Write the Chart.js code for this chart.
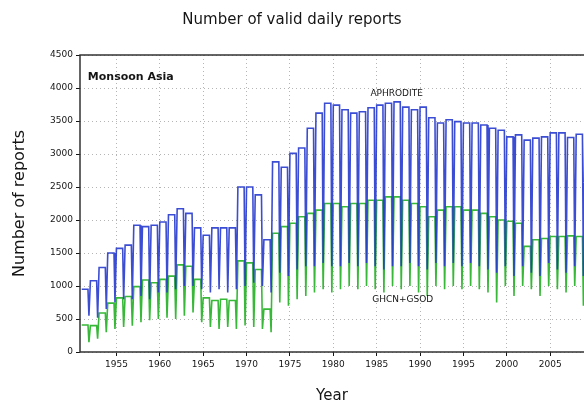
<!DOCTYPE html>
<html>
<head>
<meta charset="utf-8">
<script src="https://cdn.jsdelivr.net/npm/chart.js@4/dist/chart.umd.min.js"></script>
<style>
  html, body { margin: 0; padding: 0; background: #fff; }
  #wrap { width: 584px; height: 414px; }
</style>
</head>
<body>
<div id="wrap"><canvas id="reportsChart" width="584" height="414"></canvas></div>
<script>
// years 1951..2008, one plateau value and one seasonal dip value per year
const years = [
  1951, 1952, 1953, 1954, 1955, 1956, 1957, 1958, 1959, 1960,
  1961, 1962, 1963, 1964, 1965, 1966, 1967, 1968, 1969, 1970,
  1971, 1972, 1973, 1974, 1975, 1976, 1977, 1978, 1979, 1980,
  1981, 1982, 1983, 1984, 1985, 1986, 1987, 1988, 1989, 1990,
  1991, 1992, 1993, 1994, 1995, 1996, 1997, 1998, 1999, 2000,
  2001, 2002, 2003, 2004, 2005, 2006, 2007, 2008,
];

const aphroHigh = [
  950, 1080, 1280, 1500, 1570, 1620, 1920, 1900, 1920, 1970,
  2080, 2170, 2100, 1880, 1770, 1880, 1880, 1880, 2500, 2500,
  2380, 1700, 2880, 2800, 3010, 3090, 3390, 3620, 3770, 3740,
  3670, 3620, 3640, 3700, 3740, 3770, 3790, 3710, 3670, 3710,
  3550, 3470, 3520, 3490, 3470, 3470, 3440, 3390, 3360, 3260,
  3290, 3210, 3240, 3260, 3320, 3320, 3250, 3300,
];
const aphroLow = [
  550, 520, 650, 750, 800, 800, 850, 800, 900, 900,
  950, 1000, 1000, 950, 900, 950, 900, 950, 1000, 1050,
  1000, 900, 1200, 1150, 1250, 1300, 1300, 1350, 1300, 1300,
  1350, 1300, 1350, 1300, 1250, 1300, 1300, 1350, 1300, 1250,
  1350, 1300, 1350, 1300, 1350, 1300, 1250, 1200, 1300, 1150,
  1300, 1200, 1150, 1350, 1250, 1200, 1300, 1150,
];

const ghcnHigh = [
  410, 400, 590, 740, 820, 840, 990, 1090, 1050, 1100,
  1150, 1320, 1300, 1100, 820, 780, 800, 780, 1380, 1350,
  1250, 650, 1800, 1900, 1950, 2050, 2100, 2150, 2250, 2250,
  2200, 2250, 2250, 2300, 2300, 2350, 2350, 2300, 2250, 2200,
  2050, 2150, 2200, 2200, 2150, 2150, 2100, 2050, 2000, 1980,
  1950, 1600, 1700, 1720, 1750, 1750, 1760, 1750,
];
const ghcnLow = [
  150, 200, 300, 350, 380, 400, 450, 480, 500, 520,
  500, 550, 600, 450, 380, 350, 380, 350, 400, 380,
  350, 300, 750, 700, 800, 850, 900, 950, 900, 950,
  1000, 950, 1000, 950, 900, 1000, 950, 1000, 900, 850,
  1000, 950, 1000, 950, 1000, 950, 900, 750, 1000, 850,
  1000, 950, 850, 1000, 950, 900, 1000, 700,
];

const xTickYears = [1955, 1960, 1965, 1970, 1975, 1980, 1985, 1990, 1995, 2000, 2005];

// plateau through most of the year, then a short dip
function seasonal(high, low) {
  const pts = [];
  years.forEach((yr, i) => {
    pts.push({ x: yr, y: high[i] });
    pts.push({ x: yr + 0.72, y: high[i] });
    pts.push({ x: yr + 0.83, y: low[i] });
  });
  pts.push({ x: years[years.length - 1] + 1, y: high[high.length - 1] });
  return pts;
}

const FONT = "'DejaVu Sans', sans-serif";
const INK = '#151515';

// solid frame (left, bottom, top) + text inside the plot
const framePlugin = {
  id: 'frameAndLabels',
  afterDatasetsDraw(chart) {
    const { ctx, chartArea: a, scales } = chart;
    const x = scales.x, y = scales.y;
    ctx.save();
    ctx.strokeStyle = '#333';
    ctx.lineWidth = 1.5;
    ctx.beginPath();
    ctx.moveTo(a.right, a.top);
    ctx.lineTo(a.left, a.top);
    ctx.lineTo(a.left, a.bottom);
    ctx.lineTo(a.right, a.bottom);
    ctx.stroke();

    ctx.fillStyle = INK;
    ctx.textBaseline = 'middle';
    ctx.font = 'bold 11px ' + FONT;
    ctx.textAlign = 'left';
    ctx.fillText('Monsoon Asia', x.getPixelForValue(1951.7), y.getPixelForValue(4170));
    ctx.font = '9px ' + FONT;
    ctx.textAlign = 'center';
    ctx.fillText('APHRODITE', x.getPixelForValue(1987.3), y.getPixelForValue(3920));
    ctx.fillText('GHCN+GSOD', x.getPixelForValue(1988.0), y.getPixelForValue(800));
    ctx.restore();
  },
};

const ctx = document.getElementById('reportsChart').getContext('2d');
new Chart(ctx, {
  type: 'line',
  data: {
    datasets: [
      {
        label: 'APHRODITE',
        data: seasonal(aphroHigh, aphroLow),
        borderColor: 'rgba(38, 58, 205, 0.9)',
        borderWidth: 1.6,
        pointRadius: 0,
        tension: 0,
      },
      {
        label: 'GHCN+GSOD',
        data: seasonal(ghcnHigh, ghcnLow),
        borderColor: 'rgba(45, 180, 45, 0.95)',
        borderWidth: 1.6,
        pointRadius: 0,
        tension: 0,
      },
    ],
  },
  options: {
    responsive: false,
    animation: false,
    parsing: false,
    layout: { padding: 0 },
    plugins: {
      legend: { display: false },
      tooltip: { enabled: false },
      title: {
        display: true,
        text: 'Number of valid daily reports',
        color: INK,
        font: { family: FONT, size: 15, weight: 'normal' },
        padding: { top: 11, bottom: 26 },
      },
    },
    scales: {
      x: {
        type: 'linear',
        min: 1950.8,
        max: 2008.9,
        afterBuildTicks: (s) => { s.ticks = xTickYears.map((v) => ({ value: v })); },
        afterFit: (s) => { s.height = 62; },
        ticks: {
          color: INK,
          font: { family: FONT, size: 9 },
          padding: 3,
          maxRotation: 0,
          autoSkip: false,
          callback: (v) => String(v),
        },
        grid: {
          color: '#b5b5b5',
          lineWidth: 1,
          tickLength: 4,
          tickColor: INK,
        },
        border: { display: false, dash: [1, 3] },
        title: {
          display: true,
          text: 'Year',
          color: INK,
          font: { family: FONT, size: 15 },
          padding: { top: 0, bottom: 9 },
        },
      },
      y: {
        min: 0,
        max: 4500,
        afterFit: (s) => { s.width = 80; },
        ticks: {
          stepSize: 500,
          color: INK,
          font: { family: FONT, size: 9 },
          padding: 3,
          callback: (v) => String(v),
        },
        grid: {
          color: '#b5b5b5',
          lineWidth: 1,
          tickLength: 4,
          tickColor: INK,
        },
        border: { display: false, dash: [1, 3] },
        title: {
          display: true,
          text: 'Number of reports',
          color: INK,
          font: { family: FONT, size: 16 },
          padding: { top: 10, bottom: 0 },
        },
      },
    },
  },
  plugins: [framePlugin],
});
</script>
</body>
</html>
